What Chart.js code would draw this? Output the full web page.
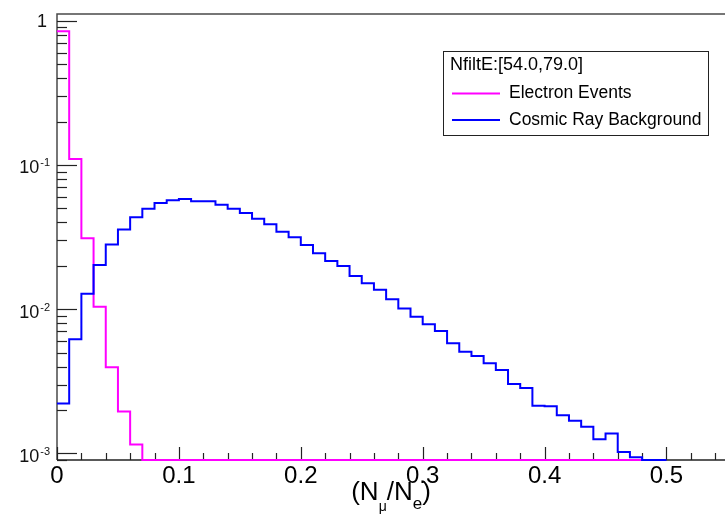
<!DOCTYPE html>
<html>
<head>
<meta charset="utf-8">
<script src="https://cdn.jsdelivr.net/npm/chart.js@4.4.1/dist/chart.umd.min.js"></script>
<style>
  html, body { margin: 0; padding: 0; background: #fff; }
  #wrap { width: 725px; height: 515px; }
</style>
</head>
<body>
<div id="wrap"><canvas id="histo" width="725" height="515"></canvas></div>
<script>
// bin edges of the (N_mu/N_e) histogram
const binEdges = [
  0.00, 0.01, 0.02, 0.03, 0.04, 0.05, 0.06, 0.07, 0.08, 0.09,
  0.10, 0.11, 0.12, 0.13, 0.14, 0.15, 0.16, 0.17, 0.18, 0.19,
  0.20, 0.21, 0.22, 0.23, 0.24, 0.25, 0.26, 0.27, 0.28, 0.29,
  0.30, 0.31, 0.32, 0.33, 0.34, 0.35, 0.36, 0.37, 0.38, 0.39,
  0.40, 0.41, 0.42, 0.43, 0.44, 0.45, 0.46, 0.47, 0.48, 0.49, 0.50
];

// normalised bin contents (empty bins = 0)
const electronEvents = [
  0.845, 0.110, 0.031, 0.0104, 0.00395, 0.00195, 0.00115, 0, 0, 0,
  0, 0, 0, 0, 0, 0, 0, 0, 0, 0,
  0, 0, 0, 0, 0, 0, 0, 0, 0, 0,
  0, 0, 0, 0, 0, 0, 0, 0, 0, 0,
  0, 0, 0, 0, 0, 0, 0, 0
];
const cosmicBackground = [
  0.00222, 0.00618, 0.0128, 0.0202, 0.0281, 0.0357, 0.0433, 0.0497, 0.0544, 0.0568,
  0.0580, 0.0559, 0.0559, 0.0530, 0.0497, 0.0464, 0.0423, 0.0387, 0.0344, 0.0315,
  0.0278, 0.0244, 0.0216, 0.0199, 0.0170, 0.0151, 0.0136, 0.0117, 0.0101, 0.00886,
  0.00785, 0.00705, 0.00579, 0.00507, 0.00474, 0.00421, 0.00378, 0.00303, 0.00284, 0.00214,
  0.00212, 0.00184, 0.00168, 0.00153, 0.00125, 0.00137, 0.00102, 0.00094, 0, 0
];

const xTickValues = [0, 0.1, 0.2, 0.3, 0.4, 0.5];
const yDecades = [1, 0.1, 0.01, 0.001];
const yDecadeLabels = [['1', ''], ['10', '-1'], ['10', '-2'], ['10', '-3']];
const legendHeader = 'NfiltE:[54.0,79.0]';

const xMin = 0, xMax = 0.548;
const yMin = 0.000899, yMax = 1.113;
const FONT = "'Liberation Sans', Arial, Helvetica, sans-serif";

// histogram -> stepped points at low edges, closed at the last upper edge
// empty bins sit on the axis floor, as ROOT draws them
function histPoints(vals) {
  const pts = vals.map((v, i) => ({ x: binEdges[i], y: v > 0 ? v : yMin }));
  pts.push({ x: binEdges[vals.length], y: pts[pts.length - 1].y });
  return pts;
}

const rootAxes = {
  id: 'rootAxes',
  beforeDatasetsDraw(chart) {
    const { ctx, chartArea: a, scales } = chart;
    const x = scales.x, y = scales.y;
    ctx.save();

    // frame
    ctx.lineWidth = 1.5;
    ctx.strokeStyle = '#4a4a4a';
    ctx.beginPath();
    ctx.moveTo(a.left, a.bottom);
    ctx.lineTo(a.left, a.top);
    ctx.lineTo(a.right + 2, a.top);
    ctx.stroke();
    ctx.strokeStyle = '#222';
    ctx.beginPath();
    ctx.moveTo(a.left, a.bottom);
    ctx.lineTo(a.right + 2, a.bottom);
    ctx.stroke();

    // y ticks (log), pointing into the pad
    ctx.lineWidth = 1.2;
    ctx.strokeStyle = '#222';
    for (let d = -4; d <= 0; d++) {
      for (let m = 1; m <= 9; m++) {
        const v = m * Math.pow(10, d);
        if (v < yMin || v > yMax) continue;
        const py = Math.round(y.getPixelForValue(v)) + 0.5;
        const len = m === 1 ? 20 : 10;
        ctx.beginPath();
        ctx.moveTo(a.left, py);
        ctx.lineTo(a.left + len, py);
        ctx.stroke();
      }
    }

    // x ticks
    for (let k = 0; k * 0.02 <= xMax + 1e-9; k++) {
      const px = Math.round(x.getPixelForValue(k * 0.02)) + 0.5;
      const len = k % 5 === 0 ? 13 : 7;
      ctx.beginPath();
      ctx.moveTo(px, a.bottom);
      ctx.lineTo(px, a.bottom - len);
      ctx.stroke();
    }
    ctx.restore();
  },
  afterDatasetsDraw(chart) {
    const { ctx, chartArea: a, scales } = chart;
    const y = scales.y;
    ctx.save();

    // y labels with superscripts
    ctx.fillStyle = '#111';
    ctx.textBaseline = 'alphabetic';
    ctx.textAlign = 'right';
    yDecades.forEach((v, i) => {
      const py = y.getPixelForValue(v);
      const [base, sup] = yDecadeLabels[i];
      if (!sup) {
        ctx.font = '18px ' + FONT;
        ctx.fillText(base, 47, py + 6);
        return;
      }
      ctx.font = '11px ' + FONT;
      const w = ctx.measureText(sup).width;
      ctx.fillText(sup, 50, py + 1.5);
      ctx.font = '18px ' + FONT;
      ctx.fillText(base, 50 - w - 1, py + 8.5);
    });

    // x axis title (N_mu / N_e)
    const parts = [
      { t: '(N', f: '26px ' + FONT, dy: 0 },
      { t: 'μ', f: '14px ' + FONT, dy: 11 },
      { t: '/N', f: '26px ' + FONT, dy: 0 },
      { t: 'e', f: '17px ' + FONT, dy: 9 },
      { t: ')', f: '26px ' + FONT, dy: 0 }
    ];
    let total = 0;
    parts.forEach(p => { ctx.font = p.f; p.w = ctx.measureText(p.t).width; total += p.w; });
    let cx = (a.left + a.right) / 2 - total / 2;
    ctx.textAlign = 'left';
    ctx.fillStyle = '#000';
    parts.forEach(p => {
      ctx.font = p.f;
      ctx.fillText(p.t, cx, 500 + p.dy);
      cx += p.w;
    });
    ctx.restore();
  },
  afterDraw(chart) {
    const { ctx } = chart;
    ctx.save();
    // legend box
    const bx = 443.5, by = 51.5, bw = 265, bh = 84;
    ctx.fillStyle = '#fff';
    ctx.fillRect(bx, by, bw, bh);
    ctx.lineWidth = 1;
    ctx.strokeStyle = '#222';
    ctx.strokeRect(bx, by, bw, bh);
    ctx.fillStyle = '#000';
    ctx.textBaseline = 'middle';
    ctx.textAlign = 'left';
    ctx.font = '18px ' + FONT;
    ctx.fillText(legendHeader, 450, 65);
    const rows = [93.5, 120];
    [1, 0].forEach((di, r) => {
      const ds = chart.data.datasets[di];
      ctx.strokeStyle = ds.borderColor;
      ctx.lineWidth = 2;
      ctx.beginPath();
      ctx.moveTo(452, rows[r]);
      ctx.lineTo(500, rows[r]);
      ctx.stroke();
      ctx.fillStyle = '#000';
      ctx.font = '17.5px ' + FONT;
      ctx.fillText(ds.label, 509, rows[r]);
    });
    ctx.restore();
  }
};

new Chart(document.getElementById('histo'), {
  type: 'line',
  data: {
    datasets: [
      {
        label: 'Cosmic Ray Background',
        data: histPoints(cosmicBackground),
        borderColor: '#0000ff',
        borderWidth: 2,
        stepped: 'before',
        pointRadius: 0,
        fill: false,
        clip: 3,
        order: 0
      },
      {
        label: 'Electron Events',
        data: histPoints(electronEvents),
        borderColor: '#ff00ff',
        borderWidth: 2,
        stepped: 'before',
        pointRadius: 0,
        fill: false,
        clip: 3,
        order: 1
      }
    ]
  },
  options: {
    responsive: false,
    animation: false,
    devicePixelRatio: 1,
    layout: { padding: { top: 14, left: 0, right: 0, bottom: 0 } },
    plugins: { legend: { display: false }, tooltip: { enabled: false } },
    scales: {
      x: {
        type: 'linear',
        min: xMin,
        max: xMax,
        grid: { display: false, drawTicks: false },
        border: { display: false },
        afterBuildTicks: s => { s.ticks = xTickValues.map(v => ({ value: v })); },
        afterFit: s => { s.height = 55; },
        ticks: {
          autoSkip: false,
          maxRotation: 0,
          padding: 2,
          color: '#000',
          font: { family: FONT, size: 24 },
          callback: v => String(Math.round(v * 10) / 10)
        }
      },
      y: {
        type: 'logarithmic',
        min: yMin,
        max: yMax,
        grid: { display: false, drawTicks: false },
        border: { display: false },
        ticks: { display: false },
        afterFit: s => { s.width = 57; }
      }
    }
  },
  plugins: [rootAxes]
});
</script>
</body>
</html>
